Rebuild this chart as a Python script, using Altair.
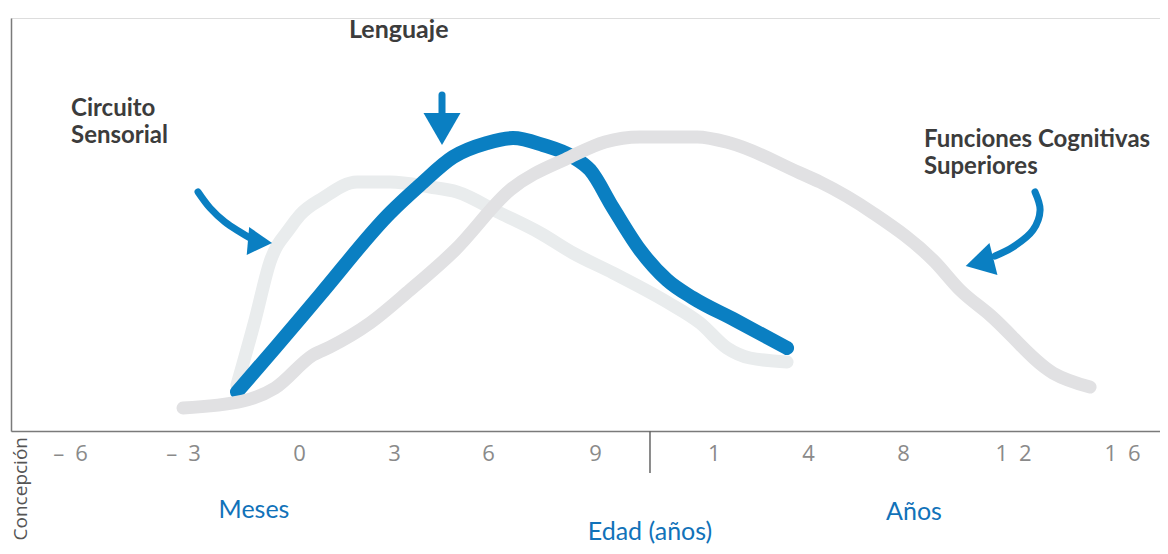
import altair as alt
import pandas as pd

# x: position along the age axis in tick-index units (0 = "-6" months ... 10 = "16" years)
# y: relative development level (0-100)
tick_labels = ["–\u20026", "–\u20023", "0", "3", "6", "9", "1", "4", "8", "1\u20022", "1\u20026"]
tick_pos = [0.0, 1.074, 2.177, 3.080, 3.973, 4.990, 6.120, 7.015, 7.918, 8.964, 10.0]

# Circuito Sensorial (light grey)
sens_x = [1.587, 1.759, 1.901, 2.091, 2.186, 2.405, 2.728, 3.042, 3.422, 3.679, 4.087,
          4.468, 4.781, 5.162, 5.675, 5.989, 6.245, 6.464, 6.816]
sens_y = [11.14, 26.88, 40.92, 49.15, 52.30, 56.42, 60.29, 60.29, 59.08, 57.87, 52.78,
          47.94, 43.10, 38.26, 31.23, 26.15, 20.10, 17.68, 16.71]

# Lenguaje (blue)
leng_x = [1.587, 1.949, 2.376, 3.042, 3.327, 3.641, 3.964, 4.211, 4.496, 4.781, 4.943,
          5.162, 5.418, 5.675, 5.922, 6.321, 6.816]
leng_y = [9.44, 20.10, 32.93, 52.78, 59.56, 66.34, 69.73, 70.94, 69.25, 66.34, 63.20,
          54.00, 43.83, 36.56, 32.20, 26.88, 20.10]

# Funciones Cognitivas Superiores (grey)
func_x = [1.074, 1.645, 1.949, 2.310, 2.471, 2.852, 3.232, 3.660, 4.183, 4.753, 5.086,
          5.418, 5.960, 6.274, 6.939, 7.129, 7.633, 8.222, 8.460, 8.745, 9.344, 9.696]
func_y = [5.57, 7.26, 10.41, 18.40, 20.34, 26.15, 34.14, 43.83, 58.35, 66.34, 69.98,
          71.19, 71.19, 69.73, 62.47, 60.29, 52.78, 40.92, 34.14, 28.09, 14.04, 10.65]

# annotation arrows (shaft points and head position)
arrow_sens_x = [1.217, 1.331, 1.473, 1.616, 1.711]
arrow_sens_y = [57.87, 53.99, 50.60, 48.18, 46.73]
arrow_leng_x = [3.536, 3.536]
arrow_leng_y = [81.36, 76.99]
arrow_func_x = [9.173, 9.221, 9.154, 8.964, 8.793]
arrow_func_y = [57.87, 53.50, 48.66, 44.55, 42.37]
head_sens = (1.806, 45.76)
head_leng = (3.536, 73.11)
head_func = (8.646, 40.79)
divider_x = 5.513

BLUE = "#0a7fc2"
GREY = "#e1e1e3"
LIGHT = "#e9eced"
TEXT = "#3c3c3c"
LABEL_BLUE = "#1172b9"

label_expr = "[" + ",".join("'%s'" % t for t in tick_labels) + "][indexof([" + \
    ",".join(str(p) for p in tick_pos) + "], datum.value)]"

x_enc = alt.X("x:Q", scale=alt.Scale(domain=[-0.561, 10.361], nice=False, zero=False),
              axis=alt.Axis(values=tick_pos, labelExpr=label_expr, title=None, grid=False,
                            ticks=False, domain=True, domainColor="#7a7a7a", domainWidth=1.5,
                            labelFont="Open Sans", labelFontSize=22, labelColor="#8a8a8a",
                            labelPadding=12, labelOverlap=False, labelFlush=False,
                            labelBound=False))
y_enc = alt.Y("y:Q", scale=alt.Scale(domain=[0, 100], nice=False, zero=False),
              axis=alt.Axis(labels=False, ticks=False, grid=False, title=None, domain=True,
                            domainColor="#7a7a7a", domainWidth=1.5))


def series(xs, ys):
    return pd.DataFrame({"x": xs, "y": ys, "o": list(range(len(xs)))})


def curve(xs, ys, color, width):
    return alt.Chart(series(xs, ys)).mark_line(
        color=color, strokeWidth=width, strokeCap="round", strokeJoin="round",
        interpolate="monotone"
    ).encode(x=x_enc, y=y_enc, order="o:Q")


def shaft(xs, ys):
    return alt.Chart(series(xs, ys)).mark_line(
        color=BLUE, strokeWidth=7, strokeCap="round", strokeJoin="round",
        interpolate="catmull-rom"
    ).encode(x=x_enc, y=y_enc, order="o:Q")


def head(pt, shape, angle, size):
    return alt.Chart(pd.DataFrame({"x": [pt[0]], "y": [pt[1]]})).mark_point(
        shape=shape, angle=angle, size=size, filled=True, color=BLUE, opacity=1
    ).encode(x=x_enc, y=y_enc)


def text(lines, x, y, size=24, color=TEXT, weight="bold", align="left", font="Lato",
         angle=0, baseline="alphabetic"):
    return alt.Chart(pd.DataFrame({"t": [lines]})).mark_text(
        align=align, baseline=baseline, font=font, fontSize=size, fontWeight=weight,
        color=color, lineBreak="\n", lineHeight=27, angle=angle
    ).encode(text="t:N", x=alt.value(x), y=alt.value(y))


divider = alt.Chart(pd.DataFrame({"x": [divider_x]})).mark_rule(
    color="#666666", strokeWidth=1.5
).encode(x=x_enc, y=alt.value(413), y2=alt.value(455))

layers = [
    curve(sens_x, sens_y, LIGHT, 13),
    curve(leng_x, leng_y, BLUE, 14),
    curve(func_x, func_y, GREY, 13),
    shaft(arrow_sens_x, arrow_sens_y),
    shaft(arrow_leng_x, arrow_leng_y),
    shaft(arrow_func_x, arrow_func_y),
    head(head_sens, "triangle-up", 95, 784),
    head(head_leng, "triangle-down", 0, 1369),
    head(head_func, "triangle-up", 256, 1089),
    divider,
    text("Lenguaje", 338, 20, size=25),
    text("Circuito\nSensorial", 60, 98),
    text("Funciones Cognitivas\nSuperiores", 913, 129),
    text("Meses", 243, 500, size=25, color=LABEL_BLUE, weight="normal", align="center"),
    text("Años", 903, 502, size=25, color=LABEL_BLUE, weight="normal", align="center"),
    text("Edad (años)", 639, 522, size=25, color=LABEL_BLUE, weight="normal", align="center"),
    text("Concepción", 16, 419, size=19, color="#555555", weight="normal", align="right",
         font="Open Sans", angle=270),
]

chart = alt.layer(*layers).properties(
    width=1149, height=413,
    padding={"left": 3, "top": 10, "right": 0, "bottom": 115},
    autosize=alt.AutoSizeParams(type="none"),
).configure_view(stroke=None).configure(background="white")

chart.save("out.html", embed_options={"renderer": "svg", "actions": False})
